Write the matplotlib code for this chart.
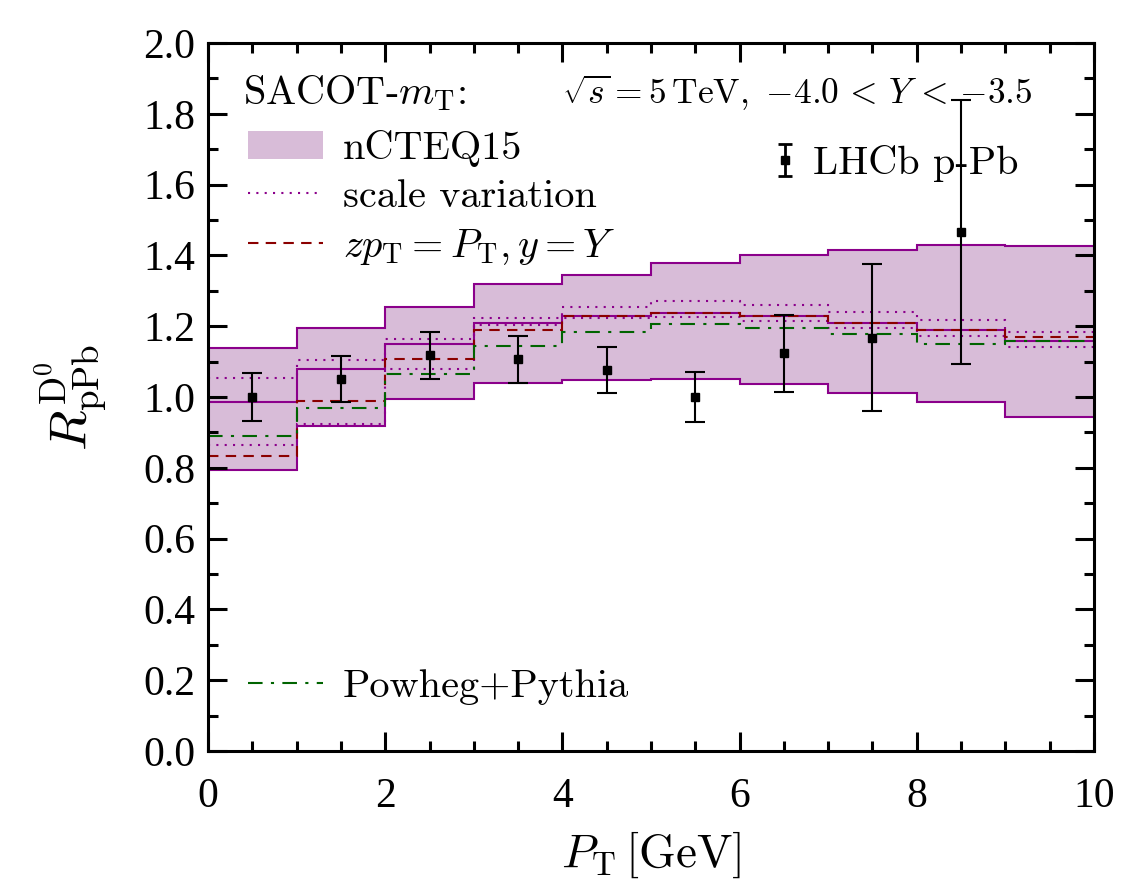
import matplotlib
matplotlib.use("Agg")
import matplotlib.pyplot as plt
from matplotlib.patches import Patch
from matplotlib.lines import Line2D
from matplotlib.legend_handler import HandlerErrorbar
import numpy as np

plt.rcParams['mathtext.fontset'] = 'cm'
plt.rcParams['font.family'] = ['Liberation Serif', 'DejaVu Serif']

# bin edges in P_T [GeV]
edges = np.arange(0, 11, 1)

# nCTEQ15 band and central value
band_hi = [1.138, 1.194, 1.253, 1.319, 1.346, 1.379, 1.402, 1.415, 1.429, 1.427]
band_lo = [0.794, 0.918, 0.994, 1.041, 1.048, 1.050, 1.036, 1.010, 0.985, 0.943]
central = [0.986, 1.078, 1.149, 1.208, 1.229, 1.237, 1.229, 1.208, 1.188, 1.159]

# scale variation
scale_hi = [1.055, 1.104, 1.165, 1.224, 1.255, 1.271, 1.261, 1.240, 1.219, 1.183]
scale_lo = [0.864, 0.925, 1.079, 1.203, 1.223, 1.227, 1.216, 1.195, 1.173, 1.142]

# zp_T = P_T, y = Y
zpt = [0.833, 0.990, 1.107, 1.188, 1.229, 1.237, 1.229, 1.208, 1.188, 1.169]

# Powheg+Pythia
powheg = [0.891, 0.968, 1.064, 1.144, 1.184, 1.206, 1.194, 1.178, 1.151, 1.159]

# LHCb data
lhcb_x = [0.5, 1.5, 2.5, 3.5, 4.5, 5.5, 6.5, 7.5, 8.5]
lhcb_y = [1.001, 1.052, 1.118, 1.107, 1.076, 1.000, 1.123, 1.168, 1.467]
lhcb_err = [0.068, 0.065, 0.067, 0.066, 0.065, 0.070, 0.110, 0.207, 0.373]

band_fill = '#d8bcd8'
purple = '#8b008b'
darkred = '#8b0000'
green = '#006400'

fig = plt.figure(figsize=(11.27, 8.91), dpi=100)
ax = fig.add_axes([0.1846, 0.1571, 0.7861, 0.7946])

ax.stairs(band_hi, edges, baseline=band_lo, fill=True, color=band_fill, lw=0)
ax.stairs(band_hi, edges, color=purple, lw=1.5, baseline=None)
ax.stairs(band_lo, edges, color=purple, lw=1.5, baseline=None)
ax.stairs(central, edges, color=purple, lw=1.5, baseline=None)
ax.stairs(scale_hi, edges, color=purple, lw=1.5, ls=(0, (1, 3)), baseline=None)
ax.stairs(scale_lo, edges, color=purple, lw=1.5, ls=(0, (1, 3)), baseline=None)
ax.stairs(zpt, edges, color=darkred, lw=1.5, ls=(0, (5, 3.5)), baseline=None)
ax.stairs(powheg, edges, color=green, lw=1.5, ls=(0, (7, 4, 1.5, 4)), baseline=None)

ax.errorbar(lhcb_x, lhcb_y, yerr=lhcb_err, fmt='s', color='black', ms=6,
            elinewidth=1.5, capsize=7, capthick=1.5)

ax.set_xlim(0, 10)
ax.set_ylim(0, 2.0)
ax.set_xticks(np.arange(0, 11, 2))
ax.set_xticks(np.arange(0, 10.01, 0.5), minor=True)
ax.set_yticks(np.arange(0, 2.01, 0.2))
ax.set_yticks(np.arange(0, 2.01, 0.1), minor=True)
ax.yaxis.set_major_formatter(matplotlib.ticker.FormatStrFormatter('%.1f'))
ax.tick_params(which='both', direction='in', top=True, right=True, width=2.2,
               labelsize=30)
ax.tick_params(which='major', length=14)
ax.tick_params(axis='x', which='major', pad=19)
ax.tick_params(axis='y', which='major', pad=9)
ax.tick_params(which='minor', length=7)
for s in ax.spines.values():
    s.set_linewidth(2.2)

ax.set_xlabel(r'$P_\mathrm{T}\,[\mathrm{GeV}]$', fontsize=34, labelpad=10)
ax.set_ylabel(r'$R^{\mathrm{D}^0}_{\mathrm{pPb}}$', fontsize=38, labelpad=24)

cm = ['cmr10']
ax.text(0.04, 0.93, r'SACOT-$m_\mathrm{T}$:', transform=ax.transAxes, fontsize=29,
        family=cm, va='center', ha='left')
ax.text(0.40, 0.93, r'$\sqrt{s} = 5\,\mathrm{TeV},\ {-4.0} \,<\, Y \,<\, {-3.5}$',
        transform=ax.transAxes, fontsize=25.5, va='center', ha='left')

h1 = [Patch(facecolor=band_fill, edgecolor='none'),
      Line2D([], [], color=purple, lw=1.5, ls=(0, (1, 3))),
      Line2D([], [], color=darkred, lw=1.5, ls=(0, (5, 3.5)))]
l1 = ax.legend(h1, ['nCTEQ15', 'scale variation', r'$zp_\mathrm{T} = P_\mathrm{T}, y = Y$'],
               loc='upper left', bbox_to_anchor=(0.045, 0.877), frameon=False,
               prop={'family': cm, 'size': 29}, handlelength=1.87, handletextpad=0.48,
               labelspacing=0.3, borderaxespad=0, borderpad=0)
ax.add_artist(l1)

eb = ax.errorbar([np.nan], [np.nan], yerr=[0.1], fmt='s', color='black', ms=6,
                 elinewidth=2, capsize=5, capthick=2)
l2 = ax.legend([eb], ['LHCb p-Pb'], loc='center left', bbox_to_anchor=(0.64, 0.83),
               frameon=False, prop={'family': cm, 'size': 29}, handlelength=0.5,
               handletextpad=0.45, borderaxespad=0, borderpad=0,
               handler_map={type(eb): HandlerErrorbar(yerr_size=0.4)})
ax.add_artist(l2)

h3 = [Line2D([], [], color=green, lw=1.5, ls=(0, (7, 4, 1.5, 4)))]
ax.legend(h3, ['Powheg+Pythia'], loc='center left', bbox_to_anchor=(0.045, 0.09),
          frameon=False, prop={'family': cm, 'size': 29}, handlelength=1.87,
          handletextpad=0.48, borderaxespad=0, borderpad=0)

fig.savefig('out.png', dpi=100)
